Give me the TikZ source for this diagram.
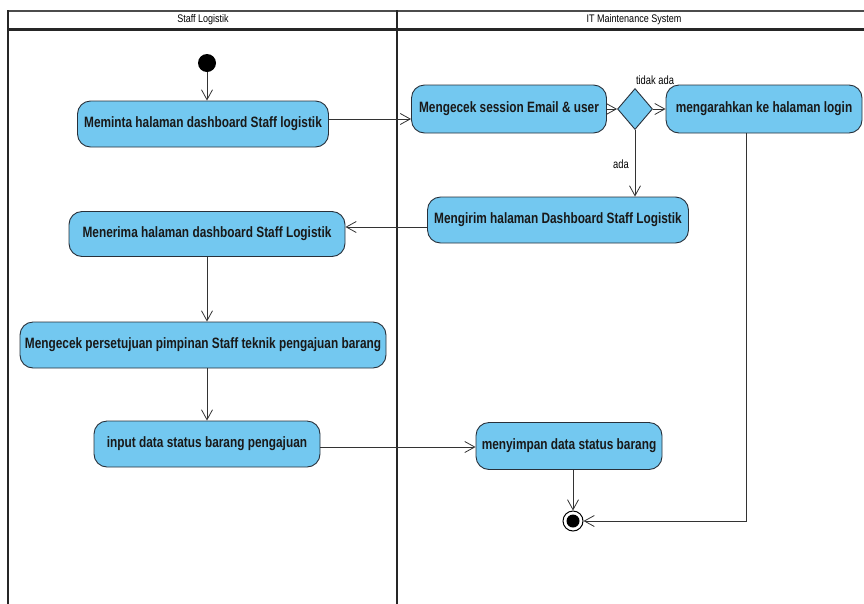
\documentclass[tikz,border=0pt]{standalone}
\usepackage{fontspec}
\usetikzlibrary{arrows.meta,shapes.geometric}
\newfontfamily\boxfont{Liberation Sans}[FakeStretch=0.79]
\newfontfamily\lanefont{Liberation Sans}[FakeStretch=0.82]
\newfontfamily\guardfont{Liberation Sans}[FakeStretch=0.78]
\definecolor{actfill}{RGB}{115,200,240}
\definecolor{actline}{RGB}{40,48,58}
\tikzset{
  act/.style={draw=actline, fill=actfill, line width=0.9pt, rounded corners=13pt,
    font=\boxfont\bfseries\fontsize{15}{17}\selectfont, text=black!90,
    inner sep=2pt, align=center},
  decision/.style={diamond, draw=actline, fill=actfill, line width=0.9pt,
    minimum width=35pt, minimum height=41pt, inner sep=0pt, aspect=0.85},
  flow/.style={draw=black!80, line width=0.8pt, -{Straight Barb[length=10pt,width=11pt]}},
  lane/.style={line width=2pt, draw=black!85},
  lanetitle/.style={font=\lanefont\fontsize{11}{13}\selectfont},
  guard/.style={font=\guardfont\fontsize{12}{14}\selectfont}
}
\begin{document}
\begin{tikzpicture}[x=1pt,y=-1pt]
\useasboundingbox (0,0) rectangle (864,603);
% swimlane frame
\draw[lane, draw=black!70] (8,11) -- (866,11);
\draw[lane, line width=2.5pt] (8,29.5) -- (866,29.5);
\draw[lane] (8,10) -- (8,605);
\draw[lane] (397,10) -- (397,605);
\node[lanetitle] (laneA) at (203,19.5) {Staff Logistik};
\node[lanetitle] (laneB) at (634,19.5) {IT Maintenance System};

% start and end
\node[circle, fill=black, minimum size=18pt, inner sep=0pt] (start) at (207,63) {};
\node[circle, draw=black, fill=white, line width=1pt, minimum size=20pt, inner sep=0pt] (final) at (573,521) {};
\fill[black] (final.center) circle (6.5pt);

% actions
\node[act, minimum width=251pt, minimum height=46pt] (a1) at (203,124) {Meminta halaman dashboard Staff logistik};
\node[act, minimum width=195pt, minimum height=48pt] (a2) at (509,109) {Mengecek session Email \& user};
\node[decision] (d1) at (635,109) {};
\node[act, minimum width=196pt, minimum height=48pt] (a3) at (764,109) {mengarahkan ke halaman login};
\node[act, minimum width=261pt, minimum height=46pt] (a4) at (558,220) {Mengirim halaman Dashboard Staff Logistik};
\node[act, minimum width=276pt, minimum height=45pt] (a5) at (207,234) {Menerima halaman dashboard Staff Logistik};
\node[act, minimum width=366pt, minimum height=46pt] (a6) at (203,345) {Mengecek persetujuan pimpinan Staff teknik pengajuan barang};
\node[act, minimum width=226pt, minimum height=46pt] (a7) at (207,444) {input data status barang pengajuan};
\node[act, minimum width=186pt, minimum height=47pt] (a8) at (569,446) {menyimpan data status barang};

% guards
\node[guard] (g1) at (655,80) {tidak ada};
\node[guard] (g2) at (621,164) {ada};

% control flows
\draw[flow] (start) -- (start |- a1.north);
\draw[flow] ([yshift=5pt]a1.east) -- ([yshift=5pt]a1.east -| a2.west);
\draw[flow] (a2.east) -- (d1.west);
\draw[flow] (d1.east) -- (a3.west);
\draw[flow] (d1.south) -- (d1.south |- a4.north);
\draw[flow] ([yshift=-7pt]a4.west) -- ([yshift=-7pt]a4.west -| a5.east);
\draw[flow] (start |- a5.south) -- (start |- a6.north);
\draw[flow] (start |- a6.south) -- (start |- a7.north);
\draw[flow] ([yshift=-3pt]a7.east) -- ([yshift=-3pt]a7.east -| a8.west);
\draw[flow] (final |- a8.south) -- (final.north);
\draw[flow] ([xshift=-18pt]a3.south) |- (final.east);
\end{tikzpicture}
\end{document}
